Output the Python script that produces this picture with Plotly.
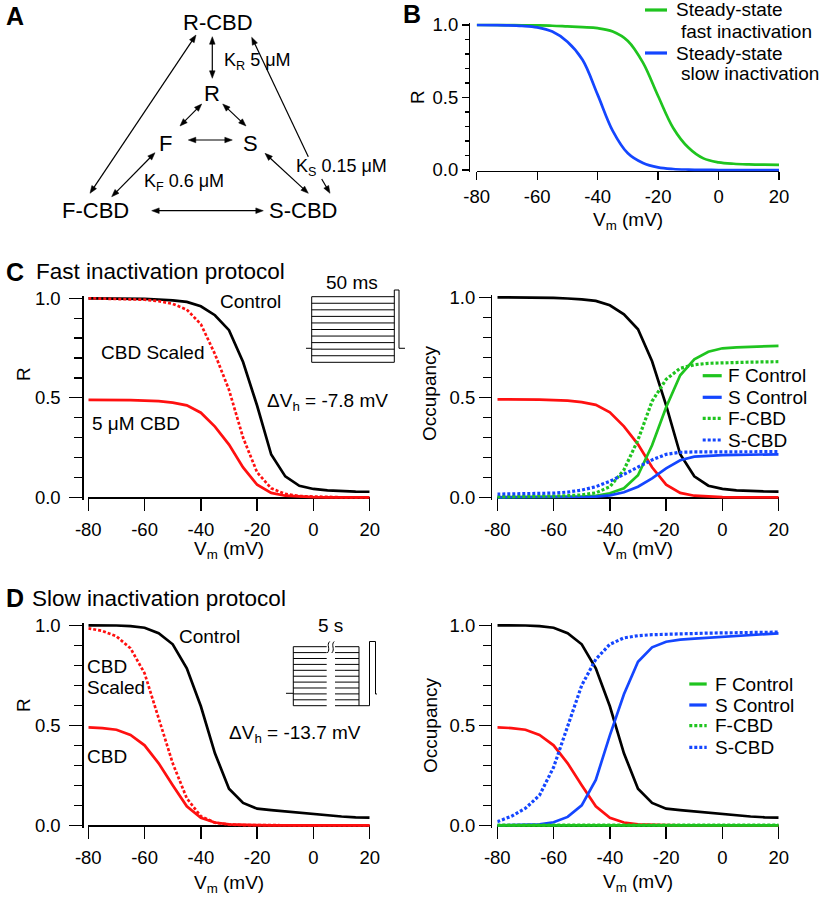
import math
import plotly.graph_objects as go

W, H = 820, 897
FONT = "Liberation Sans, Arial, sans-serif"
GREEN = "#1fc41f"
BLUE = "#1446ff"
RED = "#ff1010"
BLACK = "#000000"

# ---------------- data ----------------
V_MV = [-80, -75, -70, -65, -60, -55, -50, -45, -40, -35, -30, -25, -20, -15, -10, -5, 0, 5, 10, 15, 20]
X_TICKS = [-80, -60, -40, -20, 0, 20]
X_TICK_TEXT = ["-80", "-60", "-40", "-20", "0", "20"]
Y_TICKS = [0, 0.5, 1.0]
Y_TICK_TEXT = ["0.0", "0.5", "1.0"]
Y_MINOR = [0.1, 0.2, 0.3, 0.4, 0.6, 0.7, 0.8, 0.9]

# Panel B
B_fast = [1.0, 1.0, 0.999, 0.998, 0.997, 0.995, 0.99, 0.985, 0.978, 0.955, 0.89, 0.74, 0.51, 0.29, 0.155, 0.08, 0.053, 0.043, 0.039, 0.037, 0.036]
B_slow = [1.0, 0.999, 0.998, 0.994, 0.984, 0.955, 0.885, 0.76, 0.52, 0.27, 0.115, 0.048, 0.018, 0.007, 0.003, 0.001, 0.0, 0.0, 0.0, 0.0, 0.0]

# Panel C (fast inactivation protocol)
C_control = [1.0, 1.0, 0.999, 0.998, 0.997, 0.994, 0.99, 0.982, 0.96, 0.915, 0.84, 0.68, 0.46, 0.215, 0.105, 0.058, 0.042, 0.035, 0.031, 0.029, 0.028]
C_cbd = [0.49, 0.49, 0.489, 0.488, 0.486, 0.483, 0.476, 0.462, 0.425, 0.355, 0.265, 0.15, 0.063, 0.022, 0.008, 0.003, 0.001, 0.0, 0.0, 0.0, 0.0]
C_cbd_scaled = [1.0, 0.999, 0.998, 0.997, 0.993, 0.986, 0.972, 0.943, 0.87, 0.72, 0.54, 0.3, 0.125, 0.045, 0.017, 0.006, 0.003, 0.001, 0.0, 0.0, 0.0]
C_F_control = [0.0, 0.0, 0.0, 0.0, 0.0, 0.001, 0.003, 0.007, 0.02, 0.045, 0.11, 0.26, 0.45, 0.61, 0.69, 0.728, 0.745, 0.75, 0.753, 0.755, 0.757]
C_S_control = [0.0, 0.0, 0.0, 0.0, 0.0, 0.0, 0.001, 0.003, 0.01, 0.025, 0.053, 0.095, 0.145, 0.185, 0.203, 0.208, 0.211, 0.212, 0.213, 0.214, 0.215]
C_F_cbd = [0.003, 0.003, 0.004, 0.005, 0.006, 0.008, 0.012, 0.022, 0.053, 0.137, 0.287, 0.48, 0.59, 0.645, 0.663, 0.67, 0.673, 0.675, 0.676, 0.677, 0.678]
C_S_cbd = [0.016, 0.017, 0.018, 0.019, 0.021, 0.026, 0.036, 0.053, 0.08, 0.115, 0.152, 0.187, 0.215, 0.225, 0.227, 0.228, 0.228, 0.228, 0.228, 0.228, 0.228]

# Panel D (slow inactivation protocol)
D_control = [1.0, 1.0, 0.999, 0.996, 0.988, 0.96, 0.905, 0.785, 0.595, 0.36, 0.183, 0.112, 0.083, 0.076, 0.069, 0.062, 0.056, 0.049, 0.044, 0.04, 0.038]
D_cbd = [0.49, 0.486, 0.478, 0.452, 0.4, 0.31, 0.2, 0.095, 0.037, 0.014, 0.005, 0.002, 0.001, 0.0, 0.0, 0.0, 0.0, 0.0, 0.0, 0.0, 0.0]
D_cbd_scaled = [0.985, 0.972, 0.945, 0.885, 0.76, 0.54, 0.31, 0.135, 0.045, 0.013, 0.004, 0.001, 0.0, 0.0, 0.0, 0.0, 0.0, 0.0, 0.0, 0.0, 0.0]
D_F_control = [0.0, 0.0, 0.0, 0.0, 0.0, 0.0, 0.0, 0.0, 0.0, 0.0, 0.0, 0.0, 0.0, 0.0, 0.0, 0.0, 0.0, 0.0, 0.0, 0.0, 0.0]
D_S_control = [0.0, 0.001, 0.002, 0.005, 0.015, 0.042, 0.1, 0.227, 0.45, 0.655, 0.818, 0.89, 0.918, 0.928, 0.933, 0.938, 0.942, 0.947, 0.952, 0.956, 0.96]
D_F_cbd = [0.001, 0.001, 0.001, 0.001, 0.001, 0.001, 0.001, 0.001, 0.001, 0.001, 0.001, 0.001, 0.001, 0.001, 0.001, 0.001, 0.001, 0.001, 0.001, 0.001, 0.001]
D_S_cbd = [0.018, 0.045, 0.085, 0.15, 0.29, 0.49, 0.7, 0.83, 0.905, 0.937, 0.948, 0.953, 0.956, 0.958, 0.96, 0.961, 0.962, 0.963, 0.964, 0.965, 0.966]


def px(x):
    return x / W


def py(y):
    return 1 - y / H


fig = go.Figure()

# ---------------- axes ----------------
PAD = 0.012
panels = [
    # idx, x0, x1, y(0), y(1), y-axis x, x-axis y, xticklen, yticklen, minorlen, ylabel standoff, xlabel standoff
    (1, 476.7, 779.0, 170.0, 25.0, 469.0, 171.0, 8, 7, 4, 0, 0),
    (2, 88.3, 369.7, 497.3, 298.3, 82.3, 497.3, 12, 13, 8, 5, 3),
    (3, 497.3, 778.7, 497.3, 297.3, 491.0, 497.3, 12, 12, 8, 0, 3),
    (4, 88.3, 369.7, 825.3, 625.3, 82.3, 825.3, 12, 13, 8, 5, 3),
    (5, 497.3, 778.7, 825.3, 625.3, 491.0, 825.3, 12, 12, 8, 0, 3),
]
axis_font = dict(family=FONT, size=18.5, color="black")
for idx, x0, x1, yz, yo, yax, xline, txl, tyl, tml, ysd, xsd in panels:
    per = yz - yo
    sfx = "" if idx == 1 else str(idx)
    fig.layout["xaxis" + sfx] = dict(
        domain=[px(x0), px(x1)], range=[-80, 20], anchor="free", position=py(xline),
        showline=True, linewidth=1.3, linecolor="black", ticks="outside", ticklen=txl,
        tickwidth=1.3, tickcolor="black", tickvals=X_TICKS, ticktext=X_TICK_TEXT,
        showgrid=False, zeroline=False, tickfont=axis_font, layer="below traces",
        ticklabelstandoff=xsd, automargin=False, fixedrange=True)
    fig.layout["yaxis" + sfx] = dict(
        domain=[py(yz + PAD * per), py(yo - PAD * per)], range=[-PAD, 1 + PAD],
        anchor="free", position=px(yax),
        showline=True, linewidth=1.3, linecolor="black", ticks="outside", ticklen=tyl,
        tickwidth=1.3, tickcolor="black", tickvals=Y_TICKS, ticktext=Y_TICK_TEXT,
        minor=dict(tickvals=Y_MINOR, ticks="outside", ticklen=tml, tickwidth=1.3, tickcolor="black"),
        showgrid=False, zeroline=False, tickfont=axis_font, layer="below traces",
        ticklabelstandoff=ysd, automargin=False, fixedrange=True)


def line(y, axis, color, dash="solid", shape="linear", width=2.7):
    sfx = "" if axis == 1 else str(axis)
    fig.add_trace(go.Scatter(x=V_MV, y=y, mode="lines", xaxis="x" + sfx, yaxis="y" + sfx,
                             line=dict(color=color, width=width, dash=dash, shape=shape),
                             hoverinfo="skip", showlegend=False))


DOT = "3px,2px"
# Panel B
line(B_fast, 1, GREEN, shape="spline")
line(B_slow, 1, BLUE, shape="spline")
# Panel C left
line(C_control, 2, BLACK)
line(C_cbd, 2, RED)
line(C_cbd_scaled, 2, RED, dash=DOT)
# Panel C right
line(C_control, 3, BLACK)
line(C_cbd, 3, RED)
line(C_F_control, 3, GREEN)
line(C_S_control, 3, BLUE)
line(C_F_cbd, 3, GREEN, dash=DOT, width=3.2)
line(C_S_cbd, 3, BLUE, dash=DOT, width=3.2)
# Panel D left
line(D_control, 4, BLACK)
line(D_cbd, 4, RED)
line(D_cbd_scaled, 4, RED, dash=DOT)
# Panel D right
line(D_control, 5, BLACK)
line(D_cbd, 5, RED)
line(D_S_control, 5, BLUE)
line(D_S_cbd, 5, BLUE, dash=DOT, width=3.2)
line(D_F_control, 5, GREEN)
line(D_F_cbd, 5, GREEN, dash=DOT, width=3.2)


# ---------------- helpers ----------------
def txt(text, x, y, size=19, xanchor="left", yanchor="middle", angle=0):
    fig.add_annotation(text=text, x=px(x), y=py(y), xref="paper", yref="paper",
                       showarrow=False, xanchor=xanchor, yanchor=yanchor, textangle=angle,
                       font=dict(family=FONT, size=size, color="black"), borderpad=0)


def seg(pts, width=1.0, color="black"):
    path = "M " + " L ".join(f"{px(x):.5f},{py(y):.5f}" for x, y in pts)
    fig.add_shape(type="path", path=path, xref="paper", yref="paper",
                  line=dict(color=color, width=width))


def head(xh, yh, ux, uy, L=7.5, hw=2.8):
    nx, ny = -uy, ux
    pts = [(xh, yh), (xh - L * ux + hw * nx, yh - L * uy + hw * ny),
           (xh - L * ux - hw * nx, yh - L * uy - hw * ny)]
    path = "M " + " L ".join(f"{px(x):.5f},{py(y):.5f}" for x, y in pts) + " Z"
    fig.add_shape(type="path", path=path, xref="paper", yref="paper",
                  fillcolor="black", line=dict(color="black", width=0.5))


def arrow(xt, yt, xh, yh, both=True):
    d = math.hypot(xh - xt, yh - yt)
    ux, uy = (xh - xt) / d, (yh - yt) / d
    a = (xt + 5 * ux, yt + 5 * uy) if both else (xt, yt)
    b = (xh - 5 * ux, yh - 5 * uy)
    seg([a, b], width=1.2)
    head(xh, yh, ux, uy)
    if both:
        head(xt, yt, -ux, -uy)


def legend_line(x0, x1, y, color, dash="solid"):
    fig.add_shape(type="line", x0=px(x0), x1=px(x1), y0=py(y), y1=py(y), xref="paper",
                  yref="paper", line=dict(color=color, width=3.2, dash=dash))


# panel letters
for letter, lx, ly in [("A", 15, 16), ("B", 411.5, 14), ("C", 15, 272), ("D", 15, 598)]:
    txt(f"<b>{letter}</b>", lx, ly, size=25, xanchor="center")

# ---------------- Panel A: scheme ----------------
for name, cx, cy in [("R-CBD", 218, 22.7), ("R", 211.7, 93.3), ("F", 165.7, 143.3),
                     ("S", 250, 143.3), ("F-CBD", 95, 210), ("S-CBD", 303.3, 210)]:
    txt(name, cx, cy, size=22, xanchor="center")
txt("K<sub>R</sub> 5 μM", 222.7, 61, size=18)
txt("K<sub>S</sub> 0.15 μM", 295, 167, size=18)
txt("K<sub>F</sub> 0.6 μM", 143.3, 183, size=18)

arrow(212.3, 78.3, 212.3, 36.7)
arrow(180, 126, 201.7, 104)
arrow(246, 126, 222.7, 104)
arrow(188.3, 140, 232.3, 140)
arrow(111.7, 196.7, 155, 152.7)
arrow(308.3, 193.3, 265, 153.3)
arrow(151.7, 210.7, 263.3, 210.7)
arrow(90, 193.3, 196, 35)
arrow(308.3, 156.7, 251.7, 37.3, both=False)
arrow(321.7, 179, 330, 193.3, both=False)

# ---------------- Panel B legend & titles ----------------
legend_line(645, 667, 10, GREEN)
txt("Steady-state", 675, 10, size=19)
txt("fast inactivation", 680, 31, size=19)
legend_line(645, 667, 53, BLUE)
txt("Steady-state", 675, 53, size=19)
txt("slow inactivation", 680, 74, size=19)
txt("V<sub>m</sub> (mV)", 628, 221, size=19, xanchor="center")
txt("R", 417, 97, size=19, xanchor="center", angle=-90)

# ---------------- Panel C ----------------
txt("Fast inactivation protocol", 35, 271, size=22.5)
txt("Control", 219, 301)
txt("CBD Scaled", 100, 352)
txt("5 μM CBD", 91, 423)
txt("ΔV<sub>h</sub> = -7.8 mV", 266, 402)
txt("V<sub>m</sub> (mV)", 229, 550, xanchor="center")
txt("R", 23, 374, xanchor="center", angle=-90)
txt("V<sub>m</sub> (mV)", 638, 550, xanchor="center")
txt("Occupancy", 430, 393, xanchor="center", angle=-90)
for i, (lab, col, dsh) in enumerate([("F Control", GREEN, "solid"), ("S Control", BLUE, "solid"),
                                      ("F-CBD", GREEN, "dot"), ("S-CBD", BLUE, "dot")]):
    yy = [375.7, 397.3, 418.3, 440][i]
    legend_line(702.7, 721.7, yy, col, DOT if dsh == "dot" else "solid")
    txt(lab, 727, yy)

# C protocol inset
txt("50 ms", 351.7, 282, xanchor="center")
c_top, c_bot, c_left, c_right = 296.7, 362.3, 311.7, 394.3
for k in range(11):
    yk = c_top + k * (c_bot - c_top) / 10
    seg([(c_left, yk), (c_right, yk)])
seg([(c_left, c_top), (c_left, c_bot)])
seg([(306, 348.3), (c_left, 348.3)])
seg([(c_right, c_bot), (c_right, 290), (399, 290), (399, 348.3), (405, 348.3)])

# ---------------- Panel D ----------------
txt("Slow inactivation protocol", 31, 598, size=22.5)
txt("Control", 178, 636)
txt("CBD", 86, 666)
txt("Scaled", 86, 687)
txt("CBD", 86, 756)
txt("ΔV<sub>h</sub> = -13.7 mV", 228, 734)
txt("V<sub>m</sub> (mV)", 229, 884, xanchor="center")
txt("R", 23, 705, xanchor="center", angle=-90)
txt("V<sub>m</sub> (mV)", 638, 883, xanchor="center")
txt("Occupancy", 430, 725, xanchor="center", angle=-90)
for i, (lab, col, dsh) in enumerate([("F Control", GREEN, "solid"), ("S Control", BLUE, "solid"),
                                      ("F-CBD", GREEN, "dot"), ("S-CBD", BLUE, "dot")]):
    yy = [684, 705, 725.7, 747.3][i]
    legend_line(689.3, 706.7, yy, col, DOT if dsh == "dot" else "solid")
    txt(lab, 714, yy)

# D protocol inset
txt("5 s", 330, 625, xanchor="center")
d_top, d_bot, d_left, d_right, gap_l, gap_r = 646.7, 705.7, 293.3, 359.0, 326.7, 335.0
for k in range(11):
    yk = d_top + k * (d_bot - d_top) / 10
    seg([(d_left, yk), (gap_l, yk)])
    seg([(gap_r, yk), (d_right, yk)])
seg([(d_left, d_top), (d_left, d_bot)])
seg([(286, 693.3), (d_left, 693.3)])
seg([(d_right, d_top), (d_right, d_bot), (369.5, d_bot), (369.5, 641.5), (375.5, 641.5), (375.5, 694), (377, 694)])
for bx in (328.5, 333.0):
    p = (f"M {px(bx+1.2):.5f},{py(641.5):.5f} C {px(bx-2.5):.5f},{py(645):.5f} "
         f"{px(bx+2.5):.5f},{py(649):.5f} {px(bx-1.2):.5f},{py(653):.5f}")
    fig.add_shape(type="path", path=p, xref="paper", yref="paper",
                  line=dict(color="black", width=1.0))

fig.update_layout(template="none", width=W, height=H, autosize=False,
                  margin=dict(l=0, r=0, t=0, b=0, pad=0, autoexpand=False),
                  paper_bgcolor="white", plot_bgcolor="rgba(0,0,0,0)", showlegend=False,
                  font=dict(family=FONT, color="black"))

fig.write_html("out.html", config={"displayModeBar": False, "staticPlot": True},
               post_script="document.body.style.margin='0px';document.body.style.overflow='hidden';")
